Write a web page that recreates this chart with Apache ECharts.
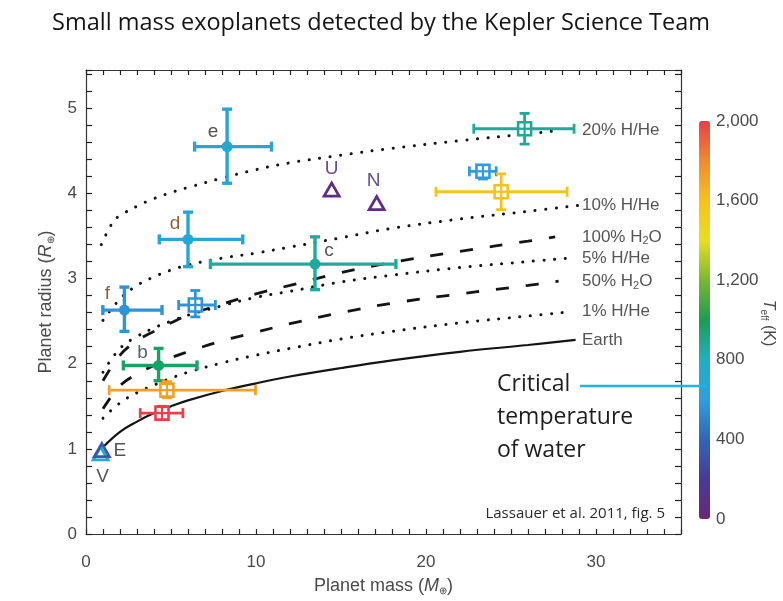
<!DOCTYPE html>
<html><head><meta charset="utf-8">
<script src="https://cdn.jsdelivr.net/npm/echarts@6/dist/echarts.min.js"></script>
<style>html,body{margin:0;padding:0;background:#fff}#c{width:783px;height:601px}</style>
</head><body><div id="c"></div>
<script>
// ---------------- data ----------------
const planetName = ['Kepler-11e','Kepler-11d','Kepler-11c','Kepler-11f','GJ 1214b','Kepler-11b','CoRoT-7b','Kepler-10b','HAT-P-11b','GJ 436b','Kepler-4b','Uranus','Neptune','Venus','Earth'];
const planetKind = ['k11','k11','k11','k11','other','k11','other','other','other','other','other','solar','solar','solar','solar'];
const planetTag  = ['e','d','c','f','','b','','','','','','U','N','V','E'];
const planetMass     = [8.30, 6.00, 13.47, 2.26, 6.43, 4.27, 4.76, 4.47, 25.80, 23.35, 24.42, 14.45, 17.10, 0.86, 0.93];
const planetMassLo   = [6.39, 4.31,  7.32, 0.99, 5.45, 2.20, 1.36, 3.19, 22.81, 22.55, 20.59, 14.45, 17.10, 0.86, 0.93];
const planetMassHi   = [10.91,9.22, 18.23, 4.47, 7.61, 6.53, 9.97, 5.70, 28.71, 24.13, 28.30, 14.45, 17.10, 0.86, 0.93];
const planetRadius   = [4.55, 3.46, 3.17, 2.63, 2.69, 1.98, 1.69, 1.42, 4.76, 4.26, 4.02, 4.04, 3.88, 0.94, 0.98];
const planetRadiusLo = [4.12, 3.14, 2.87, 2.38, 2.55, 1.80, 1.60, 1.35, 4.58, 4.17, 3.81, 4.04, 3.88, 0.94, 0.98];
const planetRadiusHi = [4.99, 3.78, 3.49, 2.90, 2.86, 2.18, 1.79, 1.50, 4.94, 4.33, 4.23, 4.04, 3.88, 0.94, 0.98];
const planetTeff     = [660, 680, 860, 560, 560, 960, 1720, 2000, 870, 590, 1600, 60, 60, 720, 330];

const curveNames = ['20% H/He','10% H/He','100% H2O','5% H/He','50% H2O','1% H/He','Earth'];
const curveStyle = ['dot','dot','dash','dot','dash','dot','solid'];
const curve20HHe  = [[0.9,3.40],[1.6,3.67],[2,3.74],[3,3.85],[4,3.94],[5,4.01],[6,4.07],[8,4.18],[10,4.28],[12,4.36],[15,4.45],[18,4.53],[22,4.62],[26,4.70],[27.8,4.74]];
const curve10HHe  = [[1,2.51],[2,2.76],[3,2.92],[4,3.02],[5,3.10],[6,3.16],[8,3.24],[10,3.30],[12,3.37],[15,3.48],[18,3.59],[22,3.70],[26,3.79],[29,3.86]];
const curve100H2O = [[1,1.80],[2,2.10],[3,2.27],[4,2.38],[5,2.48],[6,2.57],[8,2.70],[10,2.82],[12,2.92],[15,3.07],[18,3.19],[22,3.32],[26,3.44],[27.6,3.49]];
const curve5HHe   = [[1,1.90],[2,2.18],[3,2.32],[4,2.42],[5,2.50],[6,2.57],[8,2.68],[10,2.78],[12,2.85],[15,2.96],[18,3.04],[22,3.13],[26,3.20],[28.4,3.24]];
const curve50H2O  = [[1,1.47],[2,1.74],[3,1.88],[4,1.98],[5,2.07],[6,2.14],[8,2.27],[10,2.37],[12,2.47],[15,2.60],[18,2.71],[22,2.82],[26,2.92],[27.8,2.97]];
const curve1HHe   = [[1,1.36],[2,1.54],[3,1.66],[4,1.75],[5,1.83],[6,1.90],[8,2.01],[10,2.10],[12,2.18],[15,2.29],[18,2.38],[22,2.48],[26,2.56],[28.5,2.61]];
const curveEarth  = [[1,1.02],[2,1.20],[3,1.32],[4,1.42],[5,1.50],[6,1.57],[8,1.68],[10,1.77],[12,1.85],[15,1.95],[18,2.04],[22,2.14],[26,2.22],[28.8,2.28]];
const curves = [curve20HHe, curve10HHe, curve100H2O, curve5HHe, curve50H2O, curve1HHe, curveEarth];

const massTicks = [0, 10, 20, 30];
const radiusTicks = [0, 1, 2, 3, 4, 5];
const teffTicks = [0, 400, 800, 1200, 1600, 2000];

// ---------------- styles / layout ----------------
const tagStyle = {
  e: {dx: -14, dy: -15, color: '#55504a'},
  d: {dx: -13, dy: -16, color: '#8a6535'},
  c: {dx: 14, dy: -13, color: '#555555'},
  f: {dx: -17, dy: -16, color: '#7d6340'},
  b: {dx: -16, dy: -13, color: '#55627a'},
  U: {dx: 0, dy: -21, color: '#6e4a92'},
  N: {dx: -3, dy: -23, color: '#6e4a92'},
  E: {dx: 18, dy: 0, color: '#555555'},
  V: {dx: 2, dy: 23, color: '#555555'}
};
const sansFont = '"Liberation Sans", Arial, sans-serif';
const humanFont = '"Open Sans", "Noto Sans", sans-serif';
const GRID = {left: 86, right: 102, top: 70, bottom: 62};
const CHART_W = 783;
const X_MAX = 35;
const CURVE_LABEL_X = 582;

const chart = echarts.init(document.getElementById('c'));

const planetData = planetName.map((n, i) => [planetMass[i], planetRadius[i], planetMassLo[i], planetMassHi[i], planetRadiusLo[i], planetRadiusHi[i], planetTeff[i]]);

function renderPlanet(params, api) {
  const i = params.dataIndex;
  const kind = planetKind[i];
  const m = api.value(0), r = api.value(1);
  const c = api.coord([m, r]);
  const lo = api.coord([api.value(2), r]), hi = api.coord([api.value(3), r]);
  const rlo = api.coord([m, api.value(4)]), rhi = api.coord([m, api.value(5)]);
  const color = api.visual('color');
  const lw = kind === 'k11' ? 3.4 : 2.8;
  const cap = 5;
  const st = {stroke: color, lineWidth: lw};
  const ch = [];
  if (hi[0] - lo[0] > 1) {
    ch.push({type: 'line', shape: {x1: lo[0], y1: c[1], x2: hi[0], y2: c[1]}, style: st});
    ch.push({type: 'line', shape: {x1: lo[0], y1: c[1] - cap, x2: lo[0], y2: c[1] + cap}, style: st});
    ch.push({type: 'line', shape: {x1: hi[0], y1: c[1] - cap, x2: hi[0], y2: c[1] + cap}, style: st});
  }
  if (rlo[1] - rhi[1] > 1) {
    ch.push({type: 'line', shape: {x1: c[0], y1: rlo[1], x2: c[0], y2: rhi[1]}, style: st});
    ch.push({type: 'line', shape: {x1: c[0] - cap, y1: rlo[1], x2: c[0] + cap, y2: rlo[1]}, style: st});
    ch.push({type: 'line', shape: {x1: c[0] - cap, y1: rhi[1], x2: c[0] + cap, y2: rhi[1]}, style: st});
  }
  if (kind === 'k11') {
    ch.push({type: 'circle', shape: {cx: c[0], cy: c[1], r: 5.5}, style: {fill: color}});
  } else if (kind === 'other') {
    const h = 6.5;
    ch.push({type: 'rect', shape: {x: c[0] - h, y: c[1] - h, width: 2 * h, height: 2 * h}, style: {fill: '#fff', stroke: color, lineWidth: 2.6}});
    ch.push({type: 'line', shape: {x1: c[0] - h, y1: c[1], x2: c[0] + h, y2: c[1]}, style: {stroke: color, lineWidth: 2.2}});
    ch.push({type: 'line', shape: {x1: c[0], y1: c[1] - h, x2: c[0], y2: c[1] + h}, style: {stroke: color, lineWidth: 2.2}});
  } else {
    const w = 7.5;
    ch.push({type: 'polygon', shape: {points: [[c[0] - w, c[1] + 6], [c[0] + w, c[1] + 6], [c[0], c[1] - 7]]}, style: {fill: 'none', stroke: color, lineWidth: 2.8}});
  }
  const tag = planetTag[i];
  if (tag) {
    const s = tagStyle[tag];
    ch.push({type: 'text', x: c[0] + s.dx, y: c[1] + s.dy, style: {text: tag, fill: s.color, font: '19px ' + sansFont, align: 'center', verticalAlign: 'middle'}, z2: 10});
  }
  return {type: 'group', children: ch};
}

function curveLabelFormatter(p) {
  return p.seriesName.replace('H2O', 'H{sub|2}O');
}

// distance from the end of each curve to the common label column
function labelDistance(data) {
  const lastMass = data[data.length - 1][0];
  const gridW = CHART_W - GRID.left - GRID.right;
  const px = GRID.left + lastMass / X_MAX * gridW;
  return Math.max(2, CURVE_LABEL_X - px);
}

const lineSeries = curves.map((data, k) => {
  const sty = curveStyle[k];
  const ls = {color: '#141414'};
  if (sty === 'dot') Object.assign(ls, {width: 3, type: [0.1, 10.5], cap: 'round'});
  else if (sty === 'dash') Object.assign(ls, {width: 2.8, type: [13, 17], cap: 'butt'});
  else Object.assign(ls, {width: 2.2, type: 'solid'});
  return {
    type: 'line', name: curveNames[k], data: data, showSymbol: false, symbol: 'none', smooth: 0.4,
    lineStyle: ls, xAxisIndex: 0, yAxisIndex: 0, silent: true,
    endLabel: {show: true, formatter: curveLabelFormatter, distance: labelDistance(data), color: '#555', fontSize: 17, fontFamily: sansFont,
      rich: {sub: {fontSize: 11, color: '#555', fontFamily: sansFont, verticalAlign: 'bottom', padding: [9, 0, 0, 0]}}}
  };
});

const planetSeriesIndex = lineSeries.length;

const tickStyle = (len) => ({show: true, inside: false, length: -len, lineStyle: {color: '#222', width: 1.2}});
const axisLbl = {color: '#4a4a4a', fontSize: 17, fontFamily: sansFont};
const nameStyle = {color: '#4a4a4a', fontSize: 18, fontFamily: sansFont,
  rich: {i: {fontStyle: 'italic', fontSize: 18, color: '#4a4a4a', fontFamily: sansFont},
         s: {fontSize: 10, color: '#4a4a4a', verticalAlign: 'bottom', padding: [10, 0, 0, 0]}}};

const option = {
  animation: false,
  backgroundColor: '#fff',
  title: {text: 'Small mass exoplanets detected by the Kepler Science Team', left: 47, top: 6,
    textStyle: {fontFamily: humanFont, fontSize: 23.5, fontWeight: 'normal', color: '#151515'}},
  grid: [
    GRID,
    {left: 699, top: 121, width: 11, height: 398}
  ],
  xAxis: [
    {type: 'value', gridIndex: 0, position: 'bottom', min: 0, max: X_MAX, interval: 1,
      axisLine: {show: true, onZero: false, lineStyle: {color: '#333', width: 1.2}}, splitLine: {show: false},
      axisTick: tickStyle(5),
      axisLabel: Object.assign({margin: 20, formatter: v => massTicks.indexOf(v) >= 0 ? String(v) : ''}, axisLbl),
      name: 'Planet mass ({i|M}{s|⊕})', nameLocation: 'middle', nameGap: 42, nameTextStyle: nameStyle},
    {type: 'value', gridIndex: 0, position: 'top', min: 0, max: X_MAX, interval: 1,
      axisLine: {show: true, onZero: false, lineStyle: {color: '#333', width: 1.2}}, splitLine: {show: false},
      axisTick: tickStyle(5), axisLabel: {show: false}},
    {type: 'value', gridIndex: 1, show: false, min: 0, max: 1}
  ],
  yAxis: [
    {type: 'value', gridIndex: 0, position: 'left', min: 0, max: 5.45, interval: 0.2,
      axisLine: {show: true, onZero: false, lineStyle: {color: '#333', width: 1.2}}, splitLine: {show: false},
      axisTick: tickStyle(6),
      axisLabel: Object.assign({margin: 9, formatter: v => radiusTicks.some(t => Math.abs(t - v) < 1e-6) ? String(Math.round(v)) : ''}, axisLbl),
      name: 'Planet radius ({i|R}{s|⊕})', nameLocation: 'middle', nameGap: 30, nameRotate: 90, nameTextStyle: nameStyle},
    {type: 'value', gridIndex: 0, position: 'right', min: 0, max: 5.45, interval: 0.2,
      axisLine: {show: true, onZero: false, lineStyle: {color: '#333', width: 1.2}}, splitLine: {show: false},
      axisTick: tickStyle(6), axisLabel: {show: false}},
    {type: 'value', gridIndex: 1, position: 'right', min: teffTicks[0], max: teffTicks[teffTicks.length - 1], interval: 400,
      axisLine: {show: false}, axisTick: {show: false}, splitLine: {show: false},
      axisLabel: Object.assign({margin: 6, formatter: v => v >= 1000 ? Math.floor(v / 1000) + ',' + String(v % 1000).padStart(3, '0') : String(v)}, axisLbl)}
  ],
  visualMap: {
    type: 'continuous', min: 0, max: 2000, dimension: 6, seriesIndex: planetSeriesIndex,
    left: 699, top: 121, itemWidth: 11, itemHeight: 398, padding: 0, calculable: false, text: ['', ''], showLabel: false,
    inRange: {color: ['#6a2878', '#483a98', '#3166b8', '#2e9ee0', '#1fb0c0', '#1d9c52', '#78b832', '#e6df22', '#f6c21e', '#f08a2e', '#e8404a']}
  },
  series: lineSeries.concat([{
    type: 'custom', name: 'planets', renderItem: renderPlanet, data: planetData, xAxisIndex: 0, yAxisIndex: 0,
    encode: {x: [0, 2, 3], y: [1, 4, 5]}, z: 5
  }]),
  graphic: [
    {type: 'text', left: 497, top: 368, z: 50, style: {text: 'Critical\ntemperature\nof water', font: '23px ' + humanFont, lineHeight: 33, fill: '#1e1e1e'}},
    {type: 'line', z: 50, shape: {x1: 580, y1: 386, x2: 706, y2: 386}, style: {stroke: '#1db4ea', lineWidth: 2.5}},
    {type: 'text', right: 118, top: 506, z: 50, style: {text: 'Lassauer et al. 2011, fig. 5', font: '15px ' + humanFont, fill: '#2a2a2a'}},
    {type: 'text', x: 768, y: 323, rotation: -Math.PI / 2, z: 50,
      style: {text: '{i|T}{s|eff} (K)', font: '16px ' + sansFont, fill: '#4a4a4a', align: 'center', verticalAlign: 'middle',
        rich: {i: {fontStyle: 'italic', fontSize: 16, fill: '#4a4a4a'}, s: {fontSize: 10, fill: '#4a4a4a', verticalAlign: 'bottom', padding: [8, 0, 0, 0]}}}}
  ]
};

chart.setOption(option);
</script>
</body></html>
